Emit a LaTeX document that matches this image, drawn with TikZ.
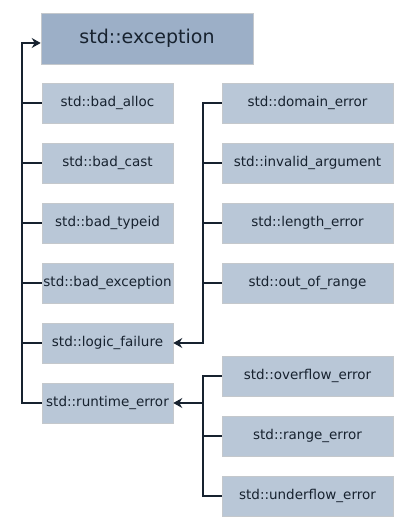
\documentclass[tikz,border=0pt]{standalone}
\usepackage{fontspec}
\setmainfont{DejaVu Sans}
\usetikzlibrary{arrows.meta}
\definecolor{topfill}{HTML}{9CAFC7}
\definecolor{boxfill}{HTML}{B9C7D7}
\definecolor{boxline}{HTML}{C4C8CC}
\definecolor{ink}{HTML}{17222F}
\begin{document}
\begin{tikzpicture}[x=1pt,y=-1pt,
  base/.style={draw=boxline,line width=0.6pt,inner sep=0pt,anchor=center,text=ink},
  topbox/.style={base,fill=topfill,minimum width=212pt,minimum height=51pt,font=\fontsize{19}{21}\selectfont},
  lbox/.style={base,fill=boxfill,minimum width=131pt,minimum height=40pt,font=\fontsize{13.5}{15}\selectfont},
  rbox/.style={base,fill=boxfill,minimum width=171pt,minimum height=40pt,font=\fontsize{13.5}{15}\selectfont},
  conn/.style={draw=ink,line width=2pt},
  arr/.style={conn,-{Stealth[length=9pt,width=10pt,inset=3pt]}}]
\useasboundingbox (0,0) rectangle (413,526);
\node[topbox] (exc) at (147,38.5) {std::exception};
\node[lbox] (alloc) at (107.5,103) {std::bad\_alloc};
\node[lbox] (cast) at (107.5,163) {std::bad\_cast};
\node[lbox] (typeid) at (107.5,223) {std::bad\_typeid};
\node[lbox] (bexc) at (107.5,283) {std::bad\_exception};
\node[lbox] (logic) at (107.5,343) {std::logic\_failure};
\node[lbox] (rt) at (107.5,403) {std::runtime\_error};
\node[rbox] (dom) at (307.5,103) {std::domain\_error};
\node[rbox] (inv) at (307.5,163) {std::invalid\_argument};
\node[rbox] (len) at (307.5,223) {std::length\_error};
\node[rbox] (oor) at (307.5,283) {std::out\_of\_range};
\node[rbox] (ovf) at (307.5,376) {std::overflow\_error};
\node[rbox] (rng) at (307.5,436) {std::range\_error};
\node[rbox] (unf) at (307.5,496) {std::underflow\_error};
\coordinate (lt) at (22,43);
\coordinate (rt1) at (203,103);
\coordinate (rt2) at (203,376);
% left trunk
\draw[arr] (rt.west) -| (lt) -- (lt -| exc.west);
\foreach \n in {alloc,cast,typeid,bexc,logic}
  \draw[conn] (\n.west) -- (\n.west -| lt);
% logic trunk
\draw[arr] (dom.west) -| (rt1 |- logic.east) -- (logic.east);
\foreach \n in {inv,len,oor}
  \draw[conn] (\n.west) -- (\n.west -| rt1);
% runtime trunk
\draw[conn] (ovf.west) -| (rt2 |- unf.west) -- (unf.west);
\draw[conn] (rng.west) -- (rng.west -| rt2);
\draw[arr] (rt2 |- rt.east) -- (rt.east);
\end{tikzpicture}
\end{document}
